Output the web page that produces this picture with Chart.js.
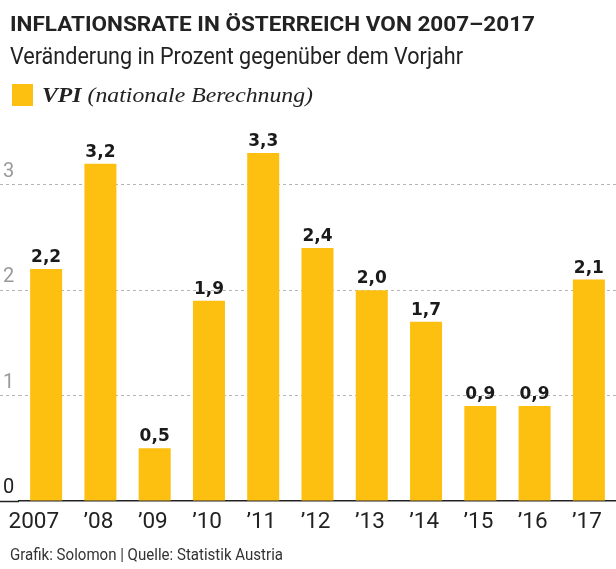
<!DOCTYPE html>
<html>
<head>
<meta charset="utf-8">
<script src="https://cdn.jsdelivr.net/npm/chart.js@4.4.0/dist/chart.umd.min.js"></script>
<style>
  html, body { margin: 0; padding: 0; background: #fff; }
  #wrap { position: relative; width: 616px; height: 569px; overflow: hidden; }
  #chart { position: absolute; left: 0; top: 0; }
  .txt { position: absolute; white-space: nowrap; display: inline-block; transform-origin: 0 0; line-height: 1.2; }
  #title { font: bold 21px Roboto, sans-serif; color: #222; }
  #subtitle { font: 24.5px Roboto, sans-serif; color: #222; }
  #legend { font: italic 22px "Liberation Serif", serif; color: #222; }
  #legend b { font-weight: bold; }
  #swatch { position: absolute; left: 12px; top: 84px; width: 21px; height: 22px; background: #fdc010; }
  #footer { font: 16.5px Roboto, sans-serif; color: #333; }
</style>
</head>
<body>
<div id="wrap">
  <canvas id="chart" width="616" height="569"></canvas>
  <div id="title" class="txt">INFLATIONSRATE IN ÖSTERREICH VON 2007–2017</div>
  <div id="subtitle" class="txt">Veränderung in Prozent gegenüber dem Vorjahr</div>
  <div id="swatch"></div>
  <div id="legend" class="txt"><b>VPI</b> (nationale Berechnung)</div>
  <div id="footer" class="txt">Grafik: Solomon | Quelle: Statistik Austria</div>
</div>
<script>
// Daten
const years = ['2007', '\u201908', '\u201909', '\u201910', '\u201911', '\u201912', '\u201913', '\u201914', '\u201915', '\u201916', '\u201917'];
const vpi = [2.2, 3.2, 0.5, 1.9, 3.3, 2.4, 2.0, 1.7, 0.9, 0.9, 2.1];
const yTicks = [0, 1, 2, 3];

const barColor = '#fdc010';

// Werte ueber den Balken
const valueLabels = {
  id: 'valueLabels',
  afterDatasetsDraw(chart) {
    const ctx = chart.ctx;
    const meta = chart.getDatasetMeta(0);
    ctx.save();
    ctx.font = 'bold 17px "DejaVu Sans", sans-serif';
    ctx.fillStyle = '#1a1a1a';
    ctx.textAlign = 'center';
    ctx.textBaseline = 'alphabetic';
    meta.data.forEach((bar, i) => {
      ctx.fillText(vpi[i].toFixed(1).replace('.', ','), bar.x, bar.y - 7);
    });
    ctx.restore();
  }
};

new Chart(document.getElementById('chart'), {
  type: 'bar',
  data: {
    labels: years,
    datasets: [{
      label: 'VPI (nationale Berechnung)',
      data: vpi,
      backgroundColor: barColor,
      borderWidth: 0,
      barPercentage: 0.59,
      categoryPercentage: 1
    }]
  },
  options: {
    responsive: false,
    animation: false,
    layout: { padding: { top: 132, left: 0, right: 0, bottom: 25 } },
    plugins: {
      legend: { display: false },
      tooltip: { enabled: false }
    },
    scales: {
      x: {
        grid: { display: false, drawTicks: false },
        border: { display: true, color: '#222', width: 1.5 },
        ticks: {
          color: '#222',
          font: { family: 'Roboto', size: 22.5 },
          padding: 8,
          align: 'end',
          labelOffset: 13,
          maxRotation: 0,
          autoSkip: false
        },
        // keine Extra-Einrueckung fuer die rechtsbuendigen Jahreszahlen
        afterFit: (s) => { s.paddingLeft = 0; s.paddingRight = 0; }
      },
      y: {
        min: 0,
        max: 3.5,
        afterBuildTicks: (axis) => { axis.ticks = yTicks.map(v => ({ value: v })); },
        afterFit: (s) => { s.width = 19; },
        grid: {
          color: (c) => c.tick && c.tick.value === 0 ? 'rgba(0,0,0,0)' : '#b5b5b5',
          lineWidth: 1,
          drawTicks: true,
          tickLength: 19,
          tickColor: (c) => c.tick && c.tick.value === 0 ? '#222' : '#b5b5b5',
          tickWidth: (c) => c.tick && c.tick.value === 0 ? 1.5 : 1,
          tickBorderDash: (c) => c.tick && c.tick.value === 0 ? [] : [3, 3]
        },
        border: { display: false, dash: [3, 3] },
        ticks: {
          mirror: true,
          padding: -16,
          labelOffset: -13,
          color: (c) => c.tick && c.tick.value === 0 ? '#222' : '#9a9a9a',
          font: { family: 'Roboto', size: 20 },
          callback: (v) => String(v)
        }
      }
    }
  },
  plugins: [valueLabels]
});

// Texte platzieren (Grundlinie + Breite)
function place(id, x, baseline, width) {
  const el = document.getElementById(id);
  el.style.transform = 'none';
  el.style.left = x + 'px';
  el.style.top = '0px';
  const probe = document.createElement('span');
  probe.style.cssText = 'display:inline-block;width:0;height:0;vertical-align:baseline';
  el.appendChild(probe);
  const b = probe.getBoundingClientRect().bottom - el.getBoundingClientRect().top;
  el.removeChild(probe);
  el.style.top = (baseline - b) + 'px';
  const w = el.getBoundingClientRect().width;
  el.style.transform = 'scaleX(' + (width / w) + ')';
}

function layoutTexts() {
  place('title', 10, 31, 525);
  place('subtitle', 10, 64, 453);
  place('legend', 42, 102, 271);
  place('footer', 10, 560, 273);
}
layoutTexts();
if (document.fonts) document.fonts.ready.then(layoutTexts);
</script>
</body>
</html>
